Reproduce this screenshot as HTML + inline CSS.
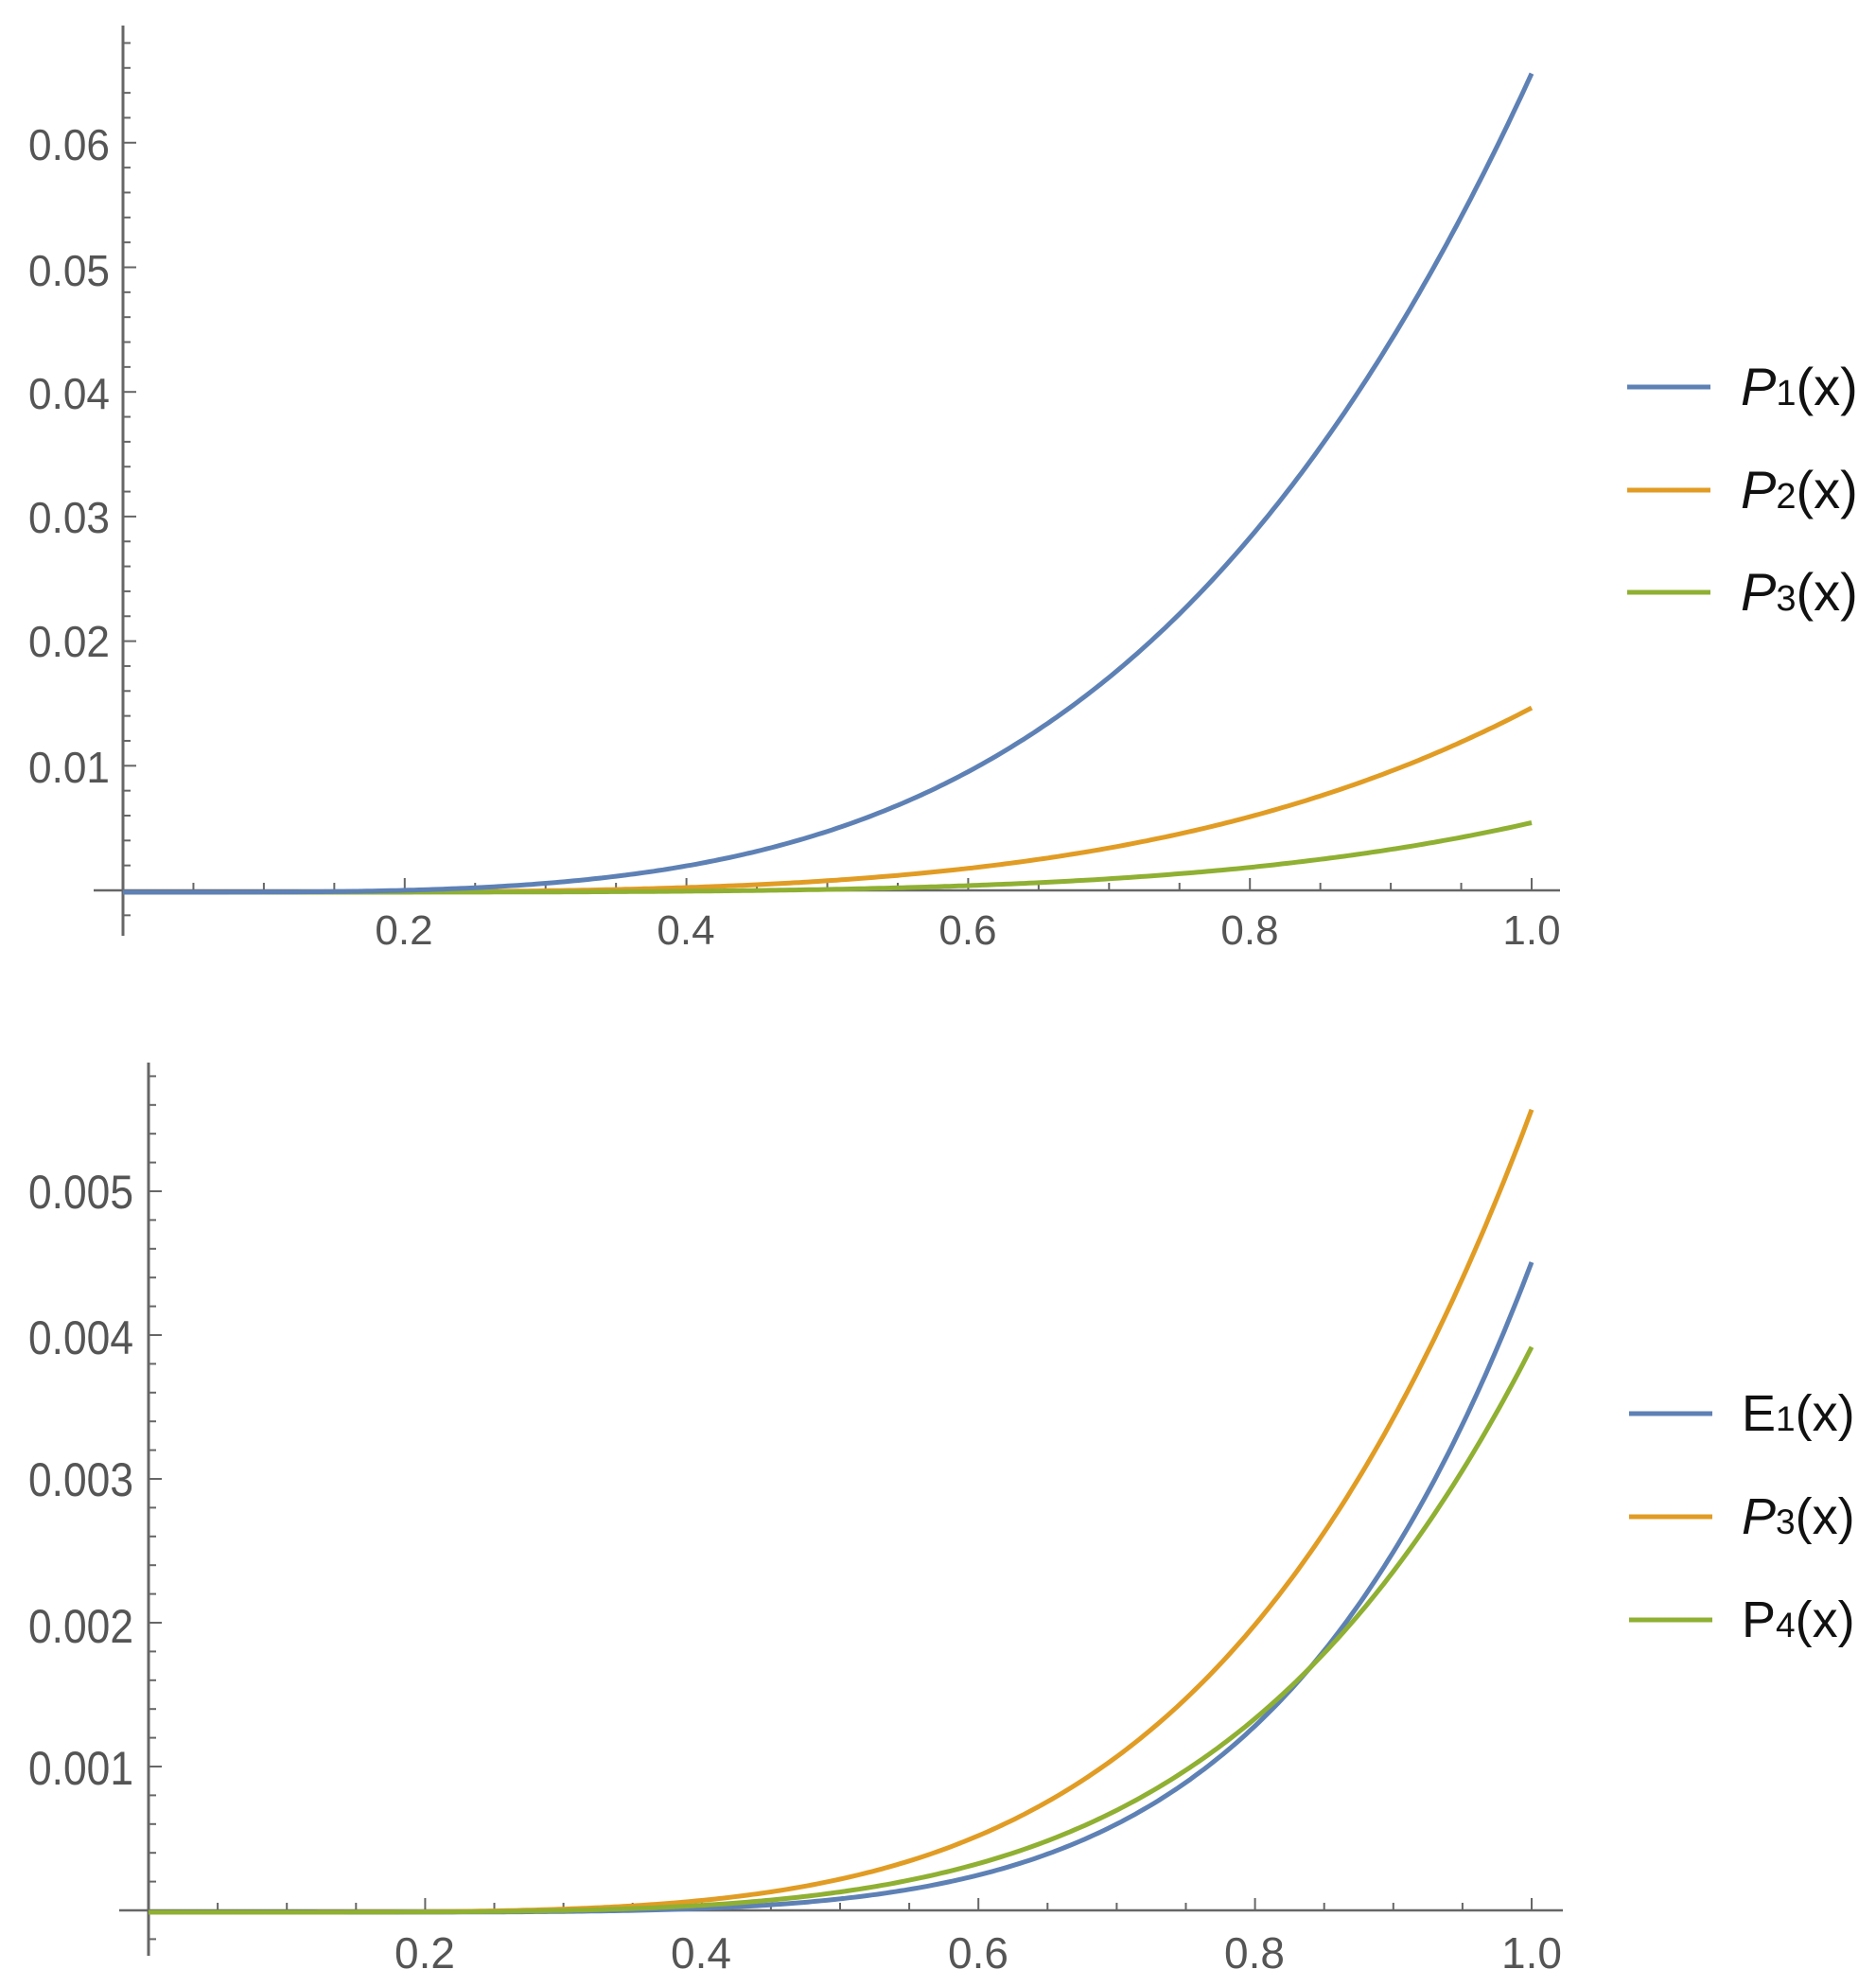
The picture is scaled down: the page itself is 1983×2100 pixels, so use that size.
<!DOCTYPE html>
<html><head><meta charset="utf-8"><style>
html,body{margin:0;padding:0;background:#fff;}
svg{display:block;}
text{font-family:"Liberation Sans",Arial,sans-serif;fill:#555;}
.lg{fill:#111;}
</style></head><body>
<svg id="s" width="1983" height="2100" viewBox="0 0 1983 2100" xmlns="http://www.w3.org/2000/svg">
<g id="g"></g>
<text x="116" y="169" font-size="46" text-anchor="end" textLength="86" lengthAdjust="spacingAndGlyphs">0.06</text>
<text x="116" y="302" font-size="46" text-anchor="end" textLength="86" lengthAdjust="spacingAndGlyphs">0.05</text>
<text x="116" y="432" font-size="46" text-anchor="end" textLength="86" lengthAdjust="spacingAndGlyphs">0.04</text>
<text x="116" y="563" font-size="46" text-anchor="end" textLength="86" lengthAdjust="spacingAndGlyphs">0.03</text>
<text x="116" y="694" font-size="46" text-anchor="end" textLength="86" lengthAdjust="spacingAndGlyphs">0.02</text>
<text x="116" y="827" font-size="46" text-anchor="end" textLength="86" lengthAdjust="spacingAndGlyphs">0.01</text>
<text x="427" y="998" font-size="44" text-anchor="middle">0.2</text>
<text x="725" y="998" font-size="44" text-anchor="middle">0.4</text>
<text x="1023" y="998" font-size="44" text-anchor="middle">0.6</text>
<text x="1321" y="998" font-size="44" text-anchor="middle">0.8</text>
<text x="1619" y="998" font-size="44" text-anchor="middle">1.0</text>
<text x="141" y="1277" font-size="50" text-anchor="end" textLength="111" lengthAdjust="spacingAndGlyphs">0.005</text>
<text x="141" y="1431" font-size="50" text-anchor="end" textLength="111" lengthAdjust="spacingAndGlyphs">0.004</text>
<text x="141" y="1581" font-size="50" text-anchor="end" textLength="111" lengthAdjust="spacingAndGlyphs">0.003</text>
<text x="141" y="1736" font-size="50" text-anchor="end" textLength="111" lengthAdjust="spacingAndGlyphs">0.002</text>
<text x="141" y="1886" font-size="50" text-anchor="end" textLength="111" lengthAdjust="spacingAndGlyphs">0.001</text>
<text x="449" y="2080" font-size="46" text-anchor="middle">0.2</text>
<text x="741" y="2080" font-size="46" text-anchor="middle">0.4</text>
<text x="1034" y="2080" font-size="46" text-anchor="middle">0.6</text>
<text x="1326" y="2080" font-size="46" text-anchor="middle">0.8</text>
<text x="1619" y="2080" font-size="46" text-anchor="middle">1.0</text>
<line x1="1720" y1="409" x2="1808" y2="409" stroke="#5E81B5" stroke-width="5"/>
<line x1="1720" y1="518" x2="1808" y2="518" stroke="#E19C24" stroke-width="5"/>
<line x1="1720" y1="626" x2="1808" y2="626" stroke="#8FB032" stroke-width="5"/>
<text class="lg" x="1840" y="428" font-size="56"><tspan font-style="italic">P</tspan><tspan font-size="38">1</tspan>(x)</text>
<text class="lg" x="1840" y="537" font-size="56"><tspan font-style="italic">P</tspan><tspan font-size="38">2</tspan>(x)</text>
<text class="lg" x="1840" y="645" font-size="56"><tspan font-style="italic">P</tspan><tspan font-size="38">3</tspan>(x)</text>
<line x1="1722" y1="1494" x2="1810" y2="1494" stroke="#5E81B5" stroke-width="5"/>
<line x1="1722" y1="1603" x2="1810" y2="1603" stroke="#E19C24" stroke-width="5"/>
<line x1="1722" y1="1712" x2="1810" y2="1712" stroke="#8FB032" stroke-width="5"/>
<text class="lg" x="1841" y="1512" font-size="54">E<tspan font-size="37">1</tspan>(x)</text>
<text class="lg" x="1841" y="1621" font-size="54"><tspan font-style="italic">P</tspan><tspan font-size="37">3</tspan>(x)</text>
<text class="lg" x="1841" y="1730" font-size="54">P<tspan font-size="37">4</tspan>(x)</text>
</svg>
<script>
var g=document.getElementById('g'),NS='http://www.w3.org/2000/svg';
function el(t,a){var e=document.createElementNS(NS,t);for(var k in a)e.setAttribute(k,a[k]);g.appendChild(e);return e;}
function ln(x1,y1,x2,y2,w){el('line',{x1:x1,y1:y1,x2:x2,y2:y2,stroke:'#666','stroke-width':w||2.5});}
function plot(P){
  ln(P.x0,P.yTop,P.x0,P.yBot,3);
  ln(P.xAxStart,P.y0,P.xAxEnd,P.y0,2.5);
  for(var i=P.ymin;i<=P.ymax;i++){
    var v=i*P.ystep,y=P.y0-v*P.ys;
    var major=(i%5===0);
    if(i===0)continue;
    ln(P.x0,y,P.x0+(major?14:8),y,2);
  }
  for(var j=1;j<=20;j++){
    var x=P.x0+j*0.05*P.xs;var major=(j%4===0);
    ln(x,P.y0,x,P.y0-(major?13:8),2);
  }
  P.curves.forEach(function(c){
    var d='';
    for(var k=0;k<=300;k++){var t=k/300;var v=c.A*Math.pow(t,c.n);
      var x=P.x0+t*P.xs,y=P.y0-v*P.ys+2;d+=(k?'L':'M')+x.toFixed(1)+' '+y.toFixed(1);}
    el('path',{d:d,fill:'none',stroke:c.col,'stroke-width':5,'stroke-linejoin':'round'});
  });
}
plot({x0:130,xs:1489,y0:941,ys:13170,yTop:27,yBot:989,xAxStart:99,xAxEnd:1649,ystep:0.002,ymin:-1,ymax:34,
 curves:[{A:0.0148,n:4.0,col:'#E19C24'},{A:0.00558,n:4.6,col:'#8FB032'},{A:0.0657,n:3.75,col:'#5E81B5'}]});
plot({x0:157,xs:1462,y0:2019,ys:152000,yTop:1123,yBot:2067,xAxStart:126,xAxEnd:1652,ystep:0.0002,ymin:-1,ymax:29,
 curves:[{A:0.00558,n:4.6,col:'#E19C24'},{A:0.00452,n:5.6,col:'#5E81B5'},{A:0.00393,n:4.8,col:'#8FB032'}]});
</script>
</body></html>
